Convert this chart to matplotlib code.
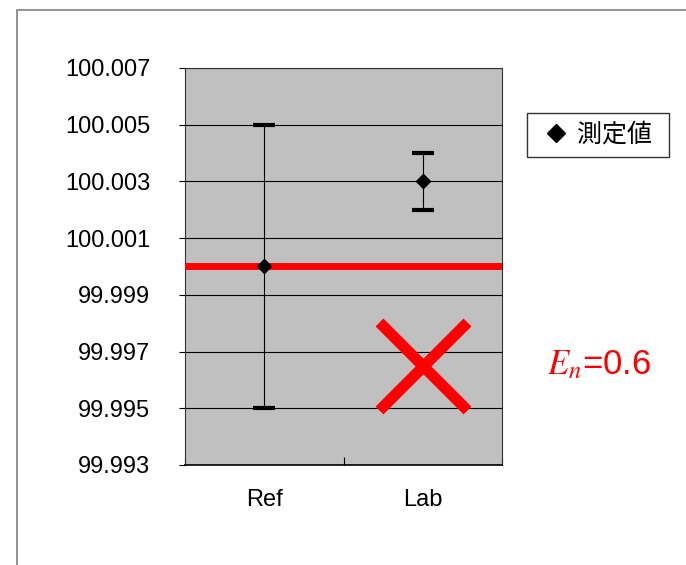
import numpy as np
import matplotlib
matplotlib.use("Agg")
import matplotlib.pyplot as plt
from matplotlib.lines import Line2D
from matplotlib.patches import Rectangle

plt.rcParams['font.family'] = ['Liberation Sans', 'Noto Sans CJK JP', 'DejaVu Sans']
plt.rcParams['mathtext.fontset'] = 'stix'

# Data
categories = ['Ref', 'Lab']
values = [100.000, 100.003]
uncertainty = [0.005, 0.001]
ref_value = 100.000
en_value = 0.6
judge_y = 99.9965          # where the red cross sits (Lab column)
yticks = np.arange(99.993, 100.0075, 0.002)

fig = plt.figure(figsize=(6.86, 5.65), dpi=100)
# outer chart border (cut off on right and bottom)
fig.patches.append(Rectangle((17 / 686, -0.1), 1.0, 1 - 10 / 565 + 0.1,
                             transform=fig.transFigure, fill=False,
                             edgecolor='#7f7f7f', linewidth=1.2))

ax = fig.add_axes([185 / 686, 1 - 465 / 565, 317 / 686, 397 / 565])
ax.set_facecolor('#c0c0c0')

x = np.arange(len(categories)) + 0.5

ax.axhline(ref_value, color='red', linewidth=5, zorder=3)
ax.errorbar(x, values, yerr=uncertainty, fmt='D', color='black',
            markersize=7, elinewidth=0.8, capsize=8, capthick=3, zorder=4)
ax.plot([x[1]], [judge_y], marker='x', color='red', markersize=63,
        markeredgewidth=8, linestyle='none', zorder=5)

ax.set_xlim(0, len(categories))
ax.set_ylim(yticks[0], yticks[-1])
ax.set_yticks(yticks)
ax.set_yticklabels([f'{v:.3f}' for v in yticks])
ax.yaxis.grid(True, color='black', linewidth=0.8)
ax.set_axisbelow(True)
ax.set_xticks([0, 1, 2])
ax.set_xticklabels(['', '', ''])
ax.set_xticks(x, minor=True)
ax.set_xticklabels(categories, minor=True)
ax.tick_params(axis='x', which='major', direction='in', length=6, color='black')
ax.tick_params(axis='x', which='minor', length=0, pad=17, labelsize=17)
ax.tick_params(axis='y', direction='out', length=4, pad=21, labelsize=17)
for s in ax.spines.values():
    s.set_color('#333333')
    s.set_linewidth(0.8)
ax.spines['bottom'].set_color('black')
ax.spines['bottom'].set_linewidth(1.2)

handle = Line2D([], [], marker='D', color='black', linestyle='none', markersize=9)
leg = fig.legend([handle], ['測定値 '], loc='upper left',
                 bbox_to_anchor=(527 / 686, 1 - 113 / 565), fontsize=18,
                 frameon=True, fancybox=False, handlelength=1.5,
                 handletextpad=0.1, borderpad=0.4, borderaxespad=0)
leg.get_frame().set_edgecolor('black')
leg.get_frame().set_linewidth(1.0)

fig.text(599 / 686, 1 - 365 / 565, rf'$E_n$={en_value}', color='red',
         fontsize=25, ha='center', va='center')

fig.savefig('out.png', dpi=100)
